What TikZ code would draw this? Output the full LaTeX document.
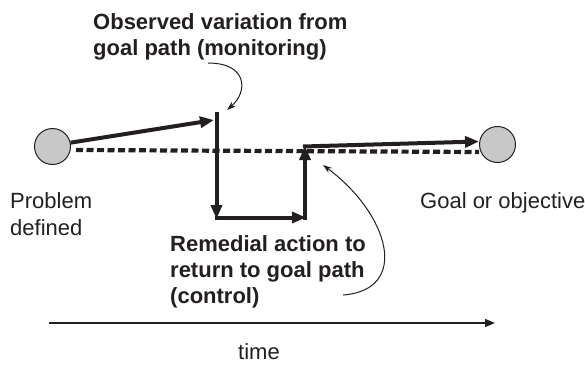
\documentclass[tikz,border=0pt]{standalone}
\usepackage{fontspec}
\setmainfont{Liberation Sans}
\usetikzlibrary{arrows.meta}
\definecolor{ink}{HTML}{231F20}
\definecolor{ball}{HTML}{C8C8C8}
\begin{document}
\begin{tikzpicture}[x=1pt,y=-1pt,
  lbl/.style={inner sep=0pt,text=ink,align=left,font=\fontsize{22}{26.5}\selectfont},
  blbl/.style={lbl,font=\fontsize{22}{26}\selectfont\bfseries},
  ballnode/.style={circle,draw=ink,fill=ball,line width=1pt,minimum size=36pt,inner sep=0pt},
  path/.style={draw=ink,line width=4pt,-{Triangle[length=14pt,width=11pt]}},
  goalpath/.style={draw=ink,line width=4.2pt,dash pattern=on 7pt off 3.5pt},
  callout/.style={draw=ink,line width=1pt,-{Stealth[length=9pt,width=6pt]}},
  axis/.style={draw=ink,line width=1.6pt,-{Triangle[length=10pt,width=8pt]}}]
\useasboundingbox (0,0) rectangle (585,364);
\node[ballnode] (start) at (52.5,146.5) {};
\node[ballnode] (goal) at (497.5,144.5) {};
% goal path (dashed)
\coordinate (gpA) at (76,150);
\draw[goalpath] (gpA) -- (goal.west |- 0,152);
% actual path
\coordinate (p1) at (214,120);
\coordinate (p2t) at (216.5,112);
\coordinate (p2b) at (216.5,219);
\coordinate (p3) at (306,219);
\coordinate (p4b) at (305,220);
\coordinate (p4t) at (305,146);
\coordinate (p5) at (303,146.5);
\draw[path] (start.12) -- (p1);
\draw[path] (p2t) -- (p2b);
\draw[path] ([xshift=-2pt]p2b |- 0,217.5) -- (p3 |- 0,217.5);
\draw[path] (p4b) -- (p4t);
\draw[path] (p5) -- (goal.west |- 0,141.5);
% labels
\node[blbl,anchor=base west] (obs) at (93,55) {Observed variation from\\goal path (monitoring)};
\node[blbl,anchor=base west] (rem) at (170,303) {Remedial action to\\return to goal path\\(control)};
\node[lbl,anchor=base west] (prob) at (10,235) {Problem\\defined};
\node[lbl,anchor=base west] (goaltxt) at (420,208) {Goal or objective};
\node[lbl,anchor=base] (time) at (259,359) {time};
% callouts
\coordinate (c1s) at (208,63);
\coordinate (c1e) at (227,110);
\draw[callout] (c1s) .. controls (248,63) and (248,92) .. (c1e);
\coordinate (c2s) at (343,295);
\coordinate (c2e) at (323,165);
\draw[callout] (c2s) .. controls (410,290) and (390,215) .. (c2e);
% time axis
\coordinate (t0) at (49,323);
\coordinate (t1) at (495,323);
\draw[axis] (t0) -- (t1);
\end{tikzpicture}
\end{document}
